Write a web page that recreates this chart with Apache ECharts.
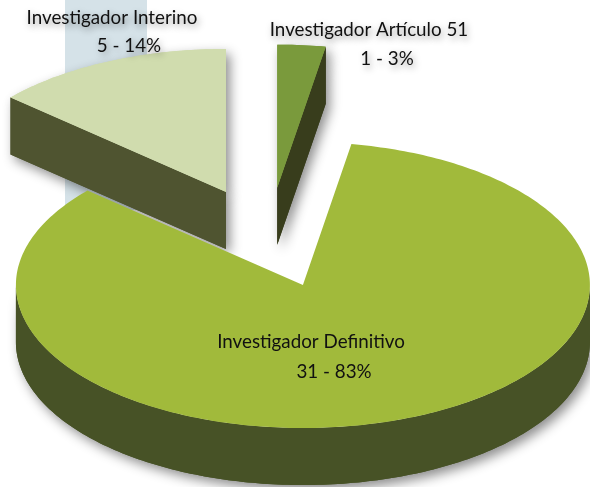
<!DOCTYPE html>
<html><head><meta charset="utf-8">
<style>html,body{margin:0;padding:0;background:#fff}#c{width:590px;height:487px}</style>
<script src="https://cdn.jsdelivr.net/npm/echarts@6/dist/echarts.min.js"></script>
</head><body><div id="c"></div>
<script>
const categories = ['Investigador Artículo 51', 'Investigador Definitivo', 'Investigador Interino'];
const values = [1, 31, 5];
const valueLabels = ['1 - 3%', '31 - 83%', '5 - 14%'];

const topColors = ['#7A9A3C', '#A1BA3B', '#D0DCAE'];
const sideColors = ['#383D1C', '#475226', '#4F5430'];
const PIE = {cx: 268.5, cy: 237.7, rx: 287, ry: 143, depth: 57, ex: 0.36, ey: 0.351};
// [name x, name y, value x, value y] (text centres)
const labelPos = [[369, 30, 387, 59], [311, 342, 334, 372], [112, 18, 129, 46]];
const layer = [2, 1, 3];

const total = values.reduce((a, b) => a + b, 0);
const D = Math.PI / 180;
let acc = 0;
const spans = values.map(v => { const s = acc; acc += v / total * 360; return [s, acc]; });

function renderSlice(params, api) {
  const i = params.dataIndex;
  const [a0, a1] = spans[i];
  const mid = (a0 + a1) / 2 * D;
  const ox = PIE.cx + Math.sin(mid) * PIE.rx * PIE.ex;
  const oy = PIE.cy - Math.cos(mid) * PIE.ry * PIE.ey;
  const pt = (t, dz) => [ox + Math.sin(t * D) * PIE.rx, oy - Math.cos(t * D) * PIE.ry + (dz || 0)];
  const arc = (s, e, dz) => { const out = []; const n = Math.max(2, Math.ceil(Math.abs(e - s))); for (let k = 0; k <= n; k++) out.push(pt(s + (e - s) * k / n, dz)); return out; };
  const apex = [ox, oy];
  const apexLow = [ox, oy + PIE.depth];
  const top = [apex].concat(arc(a0, a1));
  const sides = [];
  if (Math.sin(a0 * D) < -1e-6) sides.push([apex, pt(a0), pt(a0, PIE.depth), apexLow]);
  if (Math.sin(a1 * D) > 1e-6) sides.push([apex, pt(a1), pt(a1, PIE.depth), apexLow]);
  const fs = Math.max(a0, 90), fe = Math.min(a1, 270);
  if (fe > fs) sides.push(arc(fs, fe).concat(arc(fe, fs, PIE.depth)));
  const children = [];
  const shadow = {shadowBlur: 12, shadowColor: 'rgba(0,0,0,0.45)', shadowOffsetX: 4, shadowOffsetY: 5};
  const base = layer[i] * 10;
  sides.forEach(p => children.push({type: 'polygon', z2: base, shape: {points: p}, style: Object.assign({fill: sideColors[i]}, shadow)}));
  if (i !== 1) children.push({type: 'polygon', z2: base, shape: {points: top}, style: Object.assign({fill: topColors[i]}, shadow)});
  sides.forEach(p => children.push({type: 'polygon', z2: base + 1, shape: {points: p}, style: {fill: sideColors[i]}}));
  children.push({type: 'polygon', z2: i === 1 ? 100 : base + 2, shape: {points: top}, style: {fill: topColors[i]}});
  const lp = labelPos[i];
  const ts = i === 1 ? {} : {textShadowBlur: 7, textShadowColor: 'rgba(0,0,0,0.4)', textShadowOffsetX: 2, textShadowOffsetY: 3};
  [[categories[i], lp[0], lp[1]], [valueLabels[i], lp[2], lp[3]]].forEach(t => children.push({
    type: 'text', z2: 200,
    style: Object.assign({text: t[0], x: t[1], y: t[2], fill: '#111', font: '18.8px Lato', align: 'center', verticalAlign: 'middle'}, ts)
  }));
  return {type: 'group', children};
}

const chart = echarts.init(document.getElementById('c'), null, {renderer: 'canvas'});
chart.setOption({
  animation: false,
  backgroundColor: '#fff',
  graphic: [{type: 'rect', z: 0, silent: true, shape: {x: 65, y: 0, width: 82, height: 210}, style: {fill: '#D5E2E8'}}],
  series: [{
    type: 'custom', coordinateSystem: 'none', z: 2, silent: true,
    data: values.map((v, i) => ({name: categories[i], value: v})),
    renderItem: renderSlice
  }]
});
</script></body></html>
